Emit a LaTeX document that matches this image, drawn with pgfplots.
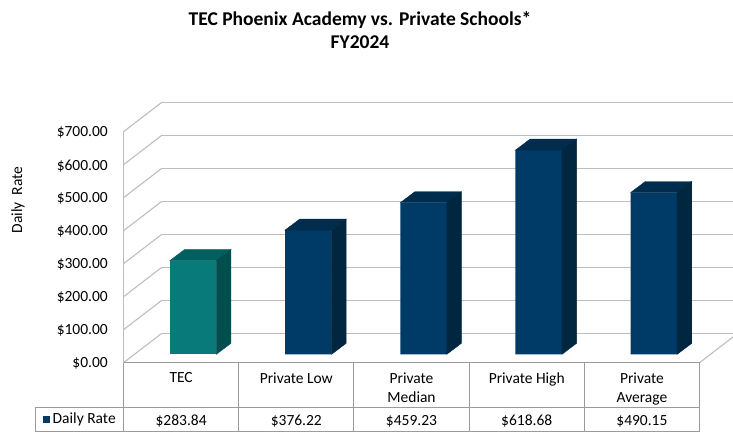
\documentclass[border=0pt]{standalone}
\usepackage{pgfplots}
\usepackage{pgfplotstable}
\pgfplotsset{compat=1.18}
\usepackage{fontspec}
\setmainfont{Carlito}
\definecolor{tealF}{RGB}{8,122,122}
\definecolor{tealT}{RGB}{0,96,96}
\definecolor{tealS}{RGB}{0,78,78}
\definecolor{navyF}{RGB}{0,58,102}
\definecolor{navyT}{RGB}{0,44,78}
\definecolor{navyS}{RGB}{0,38,64}
\definecolor{gridgray}{RGB}{190,190,190}
\definecolor{tabgray}{RGB}{155,155,155}
\newcommand\lf{\fontsize{15.5bp}{19bp}\selectfont}
\pgfplotstableread{
x val
0.5 283.84
}\tecdata
\pgfplotstableread{
x val
1.5 376.22
2.5 459.23
3.5 618.68
4.5 490.15
}\privdata
\pgfplotsset{
  side3d/.style n args={2}{only marks, mark=*, mark size=0pt, scatter,
    scatter/use mapped color={draw=none,fill=none},
    visualization depends on={rawy \as \rawy},
    scatter/@pre marker code/.code={%
      \pgfmathsetmacro\hh{\rawy*0.33}%
      \fill[#1] (-23.25bp,0bp) -- (-8.65bp,11bp) -- (37.85bp,11bp) -- (23.25bp,0bp) -- cycle;
      \fill[#2] (23.25bp,0bp) -- (37.85bp,11bp) -- (37.85bp,11bp-\hh bp) -- (23.25bp,-\hh bp) -- cycle;
    },
    scatter/@post marker code/.code={}
  },
  frame/.style={scale only axis, anchor=south west, x=115.2bp, y=0.33bp,
    xmin=0, xmax=5, ymin=0, ymax=700, clip=false}
}
\begin{document}
\begin{tikzpicture}[x=1bp,y=1bp]
\useasboundingbox (0,0) rectangle (733,433);
\fill[white] (0,0) rectangle (733,433);
\node[font=\fontsize{19.5bp}{22.7bp}\selectfont\bfseries, align=center] at (360,402.7)
  {TEC Phoenix Academy vs. Private Schools*\\FY2024};
\node[rotate=90, font=\lf] at (18,233) {Daily\ \ Rate};
% back wall
\begin{axis}[frame, at={(162bp,99.8bp)},
  axis line style={draw=none}, xtick=\empty, ytick={0,100,...,700}, yticklabels={},
  major tick length=0pt, ymajorgrids, grid style={gridgray, line width=1.1bp}]
\end{axis}
% front plane
\begin{axis}[frame, at={(123.5bp,70.3bp)},
  axis line style={draw=none}, major tick length=0pt,
  ytick={0,100,...,700},
  /pgf/number format/assume math mode=true,
  yticklabel={\$\pgfmathprintnumber[fixed,fixed zerofill,precision=2]{\tick}},
  yticklabel style={font=\lf, anchor=east, inner sep=0pt, xshift=-15.5bp, yshift=-1bp},
  xtick={0.5,1.5,...,4.5},
  xticklabels={TEC, Private Low, Private\\Median, Private High, Private\\Average},
  xticklabel style={font=\lf, align=center, anchor=north, inner sep=0pt, yshift=-10bp},
  every node near coord/.append style={font=\lf, anchor=center, inner sep=0pt},
]
\pgfplotsinvokeforeach{0,100,...,700}{
  \draw[gridgray, line width=1.1bp] (axis cs:0,#1) -- ++(38.5bp,29.5bp);
}
\draw[gridgray, line width=1.1bp] (axis cs:5,0) -- ++(38.5bp,29.5bp);
\draw[gridgray, line width=1.1bp] (axis cs:0,0) -- (axis cs:0,700);
\addplot[draw=none, mark=none, point meta=explicit,
  nodes near coords={\$\pgfmathprintnumber[fixed,fixed zerofill,precision=2]{\pgfplotspointmeta}}]
  table[x=x, y expr=-178, meta=val] {\tecdata};
\addplot[draw=none, mark=none, point meta=explicit,
  nodes near coords={\$\pgfmathprintnumber[fixed,fixed zerofill,precision=2]{\pgfplotspointmeta}}]
  table[x=x, y expr=-178, meta=val] {\privdata};
\end{axis}
% bars
\begin{axis}[frame, at={(135.5bp,78.7bp)}, hide axis]
\addplot[ybar, bar width=46.5bp, bar shift=0pt, fill=tealF, draw=none] table[x=x, y=val] {\tecdata};
\addplot[ybar, bar width=46.5bp, bar shift=0pt, fill=navyF, draw=none] table[x=x, y=val] {\privdata};
\addplot[side3d={tealT}{tealS}] table[x=x, y=val] {\tecdata};
\addplot[side3d={navyT}{navyS}] table[x=x, y=val] {\privdata};
\end{axis}
% data table
\begin{scope}[tabgray, line width=1bp]
\draw (123.5,70.3) -- (699.5,70.3);
\draw (35,25.3) -- (699.5,25.3);
\draw (35,1.3) -- (699.5,1.3);
\foreach \xx in {123.5,238.7,353.9,469.1,584.3,699.5} \draw (\xx,1.3) -- (\xx,70.3);
\draw (35,1.3) -- (35,25.3);
\end{scope}
\fill[navyF] (42.7,9.7) rectangle (49.9,16.9);
\node[font=\lf, anchor=west, inner sep=0pt] at (52.5,13.3) {Daily Rate};
\end{tikzpicture}
\end{document}
